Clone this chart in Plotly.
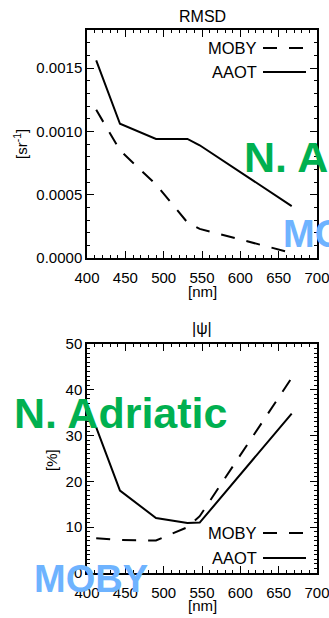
import plotly.graph_objects as go

# Wavelengths (nm) and statistics for the two validation sites
wavelength = [412, 443, 490, 531, 547, 667]
rmsd_moby = [0.00117, 0.00085, 0.00058, 0.00028, 0.00023, 0.00004]
rmsd_aaot = [0.00156, 0.00106, 0.00094, 0.00094, 0.00089, 0.00041]
psi_moby = [7.6, 7.2, 7.1, 10.0, 12.4, 42.6]
psi_aaot = [31.8, 18.0, 12.0, 10.9, 11.0, 34.8]

W, H = 329, 618
FONT = "Liberation Sans"
DASH = "14px,12px"


def px(x):
    return x / W


def py(y):
    return 1 - y / H


fig = go.Figure()

# Top panel: RMSD
fig.add_trace(go.Scatter(x=wavelength, y=rmsd_moby, mode="lines", xaxis="x", yaxis="y",
                         line=dict(color="black", width=2, dash=DASH)))
fig.add_trace(go.Scatter(x=wavelength, y=rmsd_aaot, mode="lines", xaxis="x", yaxis="y",
                         line=dict(color="black", width=2)))
# Bottom panel: |psi|
fig.add_trace(go.Scatter(x=wavelength, y=psi_moby, mode="lines", xaxis="x2", yaxis="y2",
                         line=dict(color="black", width=2, dash=DASH)))
fig.add_trace(go.Scatter(x=wavelength, y=psi_aaot, mode="lines", xaxis="x2", yaxis="y2",
                         line=dict(color="black", width=2)))

axis_common = dict(
    showgrid=False, zeroline=False, showline=True, linecolor="black", linewidth=1.5,
    mirror="allticks", ticks="inside", ticklen=7, tickwidth=1, tickcolor="black",
    tickfont=dict(family=FONT, size=15, color="black"), automargin=False,
    ticklabeloverflow="allow",
)

xdom = [px(87), px(317)]
xaxis = dict(axis_common, range=[400, 700], dtick=50, tick0=400,
             minor=dict(ticks="inside", dtick=10, ticklen=3.5, tickcolor="black", showgrid=False),
             ticklabelstandoff=5)

fig.update_layout(
    width=W, height=H, margin=dict(l=0, r=0, t=0, b=0, autoexpand=False),
    paper_bgcolor="white", plot_bgcolor="white", showlegend=False,
    xaxis=dict(xaxis, domain=xdom, anchor="y"),
    yaxis=dict(axis_common, domain=[py(258), py(30)], range=[0, 0.0018], anchor="x",
               tickvals=[0, 0.0005, 0.0010, 0.0015], tickformat=".4f",
               minor=dict(ticks="inside", dtick=0.0001, ticklen=3.5, tickcolor="black", showgrid=False)),
    xaxis2=dict(xaxis, domain=xdom, anchor="y2"),
    yaxis2=dict(axis_common, domain=[py(573), py(344)], range=[0, 50], anchor="x2",
                dtick=10, tick0=0,
                minor=dict(ticks="inside", dtick=1, ticklen=3.5, tickcolor="black", showgrid=False)),
)

txt = dict(family=FONT, color="black")
ann = [
    dict(text="RMSD", x=px(202), y=py(16), font=dict(txt, size=16)),
    dict(text="|\u03c8|", x=px(202), y=py(329), font=dict(txt, size=16)),
    dict(text="[nm]", x=px(202), y=py(291), font=dict(txt, size=15)),
    dict(text="[nm]", x=px(202), y=py(605), font=dict(txt, size=15)),
    dict(text="[sr<sup>-1</sup>]", x=px(20), y=py(144), textangle=-90, font=dict(txt, size=15)),
    dict(text="[%]", x=px(51), y=py(460), textangle=-90, font=dict(txt, size=15)),
    # legends
    dict(text="MOBY", x=px(259), y=py(48), xanchor="right", font=dict(txt, size=16.5)),
    dict(text="AAOT", x=px(259), y=py(72), xanchor="right", font=dict(txt, size=16.5)),
    dict(text="MOBY", x=px(259), y=py(533), xanchor="right", font=dict(txt, size=16.5)),
    dict(text="AAOT", x=px(259), y=py(558), xanchor="right", font=dict(txt, size=16.5)),
    # site labels
    dict(text="N. Adriatic", x=px(242), y=py(157), xanchor="left",
         font=dict(family=FONT, size=43, weight="bold", color="#00B050")),
    dict(text="N. Adriatic", x=px(12), y=py(412.5), xanchor="left",
         font=dict(family=FONT, size=43, weight="bold", color="#00B050")),
    dict(text="MOBY", x=px(280.5), y=py(233.5), xanchor="left",
         font=dict(family=FONT, size=38, weight="bold", color="#6EB3FF")),
    dict(text="MOBY", x=px(31.5), y=py(579), xanchor="left",
         font=dict(family=FONT, size=38, weight="bold", color="#6EB3FF")),
]
for a in ann:
    a.setdefault("xanchor", "center")
    fig.add_annotation(xref="paper", yref="paper", showarrow=False, yanchor="middle", **a)

# legend line samples
for yy, dash in [(48, DASH), (72, "solid"), (533, DASH), (558, "solid")]:
    fig.add_shape(type="line", xref="paper", yref="paper",
                  x0=px(263), x1=px(306), y0=py(yy), y1=py(yy),
                  line=dict(color="black", width=2, dash=dash))

fig.write_html("out.html")
